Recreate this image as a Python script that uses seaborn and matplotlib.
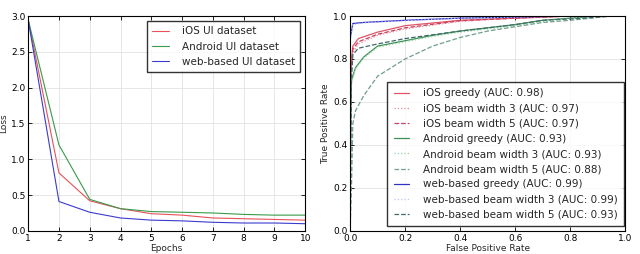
import numpy as np
import pandas as pd
import matplotlib
matplotlib.use("Agg")
import matplotlib.pyplot as plt
import seaborn as sns

# ---- Loss data ----
epochs = [1, 2, 3, 4, 5, 6, 7, 8, 9, 10]
loss_ios = [2.95, 0.81, 0.42, 0.31, 0.24, 0.22, 0.18, 0.17, 0.16, 0.15]
loss_android = [2.95, 1.20, 0.44, 0.31, 0.27, 0.26, 0.25, 0.23, 0.22, 0.22]
loss_web = [2.95, 0.41, 0.26, 0.18, 0.15, 0.14, 0.12, 0.11, 0.11, 0.10]
loss_labels = ["iOS UI dataset", "Android UI dataset", "web-based UI dataset"]

# ---- ROC data ----
ios_greedy_fpr = [0.0, 0.002, 0.005, 0.01, 0.03, 0.1, 0.2, 0.4, 0.6, 0.8, 1.0]
ios_greedy_tpr = [0.0, 0.6, 0.8, 0.86, 0.895, 0.925, 0.955, 0.98, 0.99, 1.0, 1.0]
ios_b3_fpr = [0.0, 0.002, 0.005, 0.01, 0.03, 0.1, 0.2, 0.4, 0.6, 0.8, 1.0]
ios_b3_tpr = [0.0, 0.55, 0.76, 0.83, 0.87, 0.91, 0.94, 0.975, 0.99, 1.0, 1.0]
ios_b5_fpr = [0.0, 0.002, 0.005, 0.01, 0.03, 0.1, 0.2, 0.4, 0.6, 0.8, 1.0]
ios_b5_tpr = [0.0, 0.58, 0.78, 0.845, 0.88, 0.915, 0.945, 0.978, 0.99, 1.0, 1.0]
and_greedy_fpr = [0.0, 0.002, 0.005, 0.02, 0.05, 0.1, 0.2, 0.3, 0.4, 0.5, 0.6, 0.7, 0.8, 0.9, 1.0]
and_greedy_tpr = [0.0, 0.5, 0.7, 0.76, 0.81, 0.86, 0.885, 0.91, 0.93, 0.945, 0.96, 0.98, 0.99, 1.0, 1.0]
and_b3_fpr = [0.0, 0.002, 0.005, 0.02, 0.05, 0.1, 0.2, 0.3, 0.4, 0.5, 0.6, 0.7, 0.8, 0.9, 1.0]
and_b3_tpr = [0.0, 0.5, 0.69, 0.755, 0.805, 0.855, 0.88, 0.905, 0.925, 0.94, 0.955, 0.975, 0.99, 1.0, 1.0]
and_b5_fpr = [0.0, 0.005, 0.01, 0.02, 0.05, 0.1, 0.2, 0.3, 0.4, 0.5, 0.6, 0.7, 0.8, 0.95, 1.0]
and_b5_tpr = [0.0, 0.2, 0.5, 0.56, 0.63, 0.72, 0.80, 0.86, 0.90, 0.93, 0.95, 0.97, 0.98, 1.0, 1.0]
web_greedy_fpr = [0.0, 0.001, 0.01, 0.05, 0.2, 0.4, 0.6, 0.8, 1.0]
web_greedy_tpr = [0.0, 0.9, 0.965, 0.97, 0.98, 0.99, 0.995, 1.0, 1.0]
web_b3_fpr = [0.0, 0.001, 0.01, 0.05, 0.2, 0.4, 0.6, 0.8, 1.0]
web_b3_tpr = [0.0, 0.88, 0.96, 0.968, 0.978, 0.99, 0.995, 1.0, 1.0]
web_b5_fpr = [0.0, 0.005, 0.01, 0.03, 0.1, 0.2, 0.4, 0.6, 0.7, 0.85, 0.95, 1.0]
web_b5_tpr = [0.0, 0.7, 0.82, 0.85, 0.87, 0.895, 0.93, 0.96, 0.98, 0.99, 1.0, 1.0]
roc_labels = ["iOS greedy (AUC: 0.98)", "iOS beam width 3 (AUC: 0.97)", "iOS beam width 5 (AUC: 0.97)",
              "Android greedy (AUC: 0.93)", "Android beam width 3 (AUC: 0.93)", "Android beam width 5 (AUC: 0.88)",
              "web-based greedy (AUC: 0.99)", "web-based beam width 3 (AUC: 0.99)", "web-based beam width 5 (AUC: 0.93)"]

sns.set_style("whitegrid")
plt.rcParams["font.family"] = ["DejaVu Sans"]

fig = plt.figure(figsize=(6.4, 2.54), dpi=100)
ax1 = fig.add_axes([0.044, 0.091, 0.433, 0.846])
ax2 = fig.add_axes([0.547, 0.091, 0.430, 0.846])

loss_colors = ["#e8505a", "#3a9a4a", "#3b3bd0"]
for vals, lab, c in zip([loss_ios, loss_android, loss_web], loss_labels, loss_colors):
    df = pd.DataFrame({"Epochs": epochs, "Loss": vals})
    sns.lineplot(data=df, x="Epochs", y="Loss", ax=ax1, color=c, lw=0.8, label=lab)
ax1.set_xlim(1, 10)
ax1.set_ylim(0, 3.0)
ax1.set_xticks(range(1, 11))
ax1.set_yticks(np.arange(0, 3.01, 0.5))
ax1.legend(loc="upper right", fontsize=7.5, frameon=True, fancybox=False,
           edgecolor="black", borderpad=0.5, handlelength=1.6, handletextpad=1.2)

roc_series = [
    (ios_greedy_fpr, ios_greedy_tpr, "#e05565", "-", 0.9),
    (ios_b3_fpr, ios_b3_tpr, "#f08a95", ":", 0.9),
    (ios_b5_fpr, ios_b5_tpr, "#c84060", "--", 0.9),
    (and_greedy_fpr, and_greedy_tpr, "#3f8f55", "-", 0.9),
    (and_b3_fpr, and_b3_tpr, "#8fd0a0", ":", 0.9),
    (and_b5_fpr, and_b5_tpr, "#6f9f8a", "--", 0.9),
    (web_greedy_fpr, web_greedy_tpr, "#3030c8", "-", 0.9),
    (web_b3_fpr, web_b3_tpr, "#b8c8f0", ":", 0.9),
    (web_b5_fpr, web_b5_tpr, "#3f6a6a", "--", 0.9),
]
for (fx, ty, c, ls, lw), lab in zip(roc_series, roc_labels):
    df = pd.DataFrame({"fpr": fx, "tpr": ty})
    sns.lineplot(data=df, x="fpr", y="tpr", ax=ax2, color=c, linestyle=ls, lw=lw,
                 label=lab, sort=False, estimator=None)
ax2.set_xlim(0, 1.0)
ax2.set_ylim(0, 1.0)
ax2.set_xticks(np.arange(0, 1.01, 0.2))
ax2.set_yticks(np.arange(0, 1.01, 0.2))
ax2.set_xlabel("False Positive Rate")
ax2.set_ylabel("True Positive Rate")
ax2.legend(loc="lower right", bbox_to_anchor=(0.995, 0.022), borderaxespad=0.0,
           fontsize=7.5, frameon=True, fancybox=False,
           edgecolor="black", borderpad=0.6, labelspacing=0.5, handlelength=1.5,
           handletextpad=1.3)

for ax in (ax1, ax2):
    ax.grid(True, color="#e2e2e2", lw=0.6)
    for s in ax.spines.values():
        s.set_color("black")
        s.set_linewidth(0.8)
    ax.tick_params(direction="in", length=3, width=0.6, labelsize=6.5, pad=2,
                   top=True, right=True, bottom=True, left=True, colors="black")
    ax.xaxis.label.set_size(6.5)
    ax.yaxis.label.set_size(6.5)
    ax.xaxis.labelpad = 1
    ax.yaxis.labelpad = 2
    ax.set_facecolor("white")

fig.savefig("out.png", dpi=100)
